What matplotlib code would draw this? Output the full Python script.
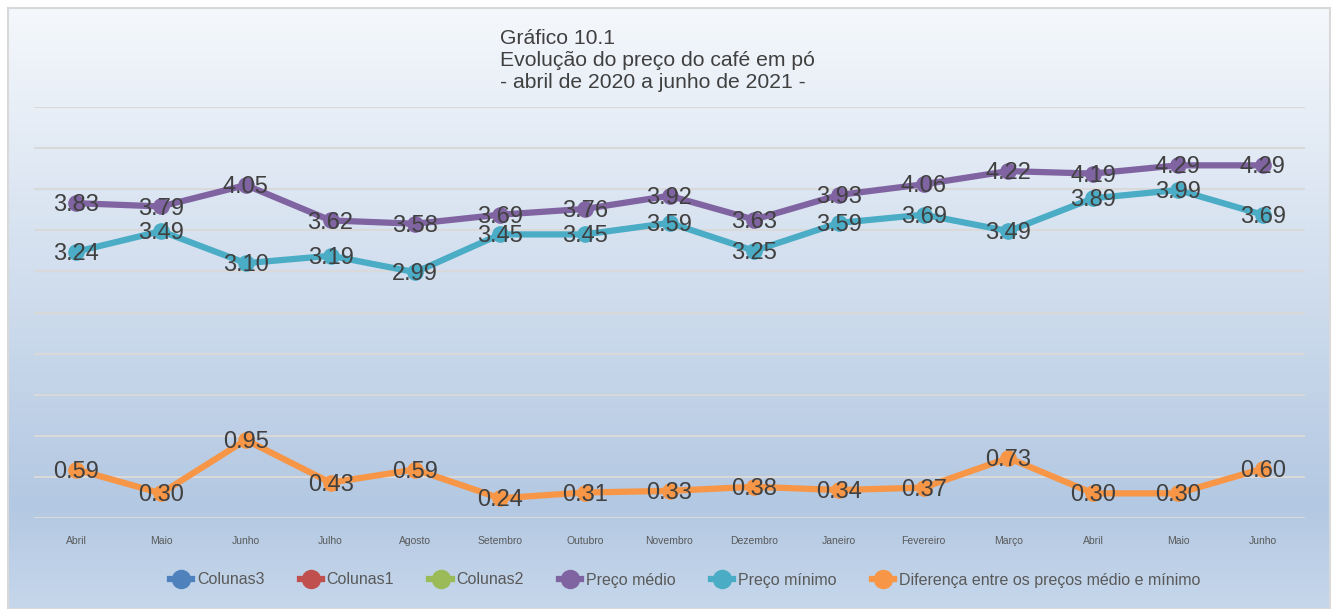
import matplotlib.pyplot as plt
import numpy as np
from matplotlib.colors import LinearSegmentedColormap
from matplotlib.lines import Line2D

plt.rcParams['font.family'] = ['Liberation Sans', 'DejaVu Sans']

meses = ["Abril", "Maio", "Junho", "Julho", "Agosto", "Setembro", "Outubro",
         "Novembro", "Dezembro", "Janeiro", "Fevereiro", "Março", "Abril",
         "Maio", "Junho"]
preco_medio = [3.83, 3.79, 4.05, 3.62, 3.58, 3.69, 3.76, 3.92, 3.63, 3.93,
               4.06, 4.22, 4.19, 4.29, 4.29]
preco_minimo = [3.24, 3.49, 3.10, 3.19, 2.99, 3.45, 3.45, 3.59, 3.25, 3.59,
                3.69, 3.49, 3.89, 3.99, 3.69]
diferenca = [0.59, 0.30, 0.95, 0.43, 0.59, 0.24, 0.31, 0.33, 0.38, 0.34,
             0.37, 0.73, 0.30, 0.30, 0.60]

fig = plt.figure(figsize=(13.35, 6.09), dpi=100)

# fundo em degradê
bg = fig.add_axes([0.006, 0.0, 0.99, 0.987])
cmap = LinearSegmentedColormap.from_list(
    "fundo", [(0, "#c6d7eb"), (0.17, "#b3c8e2"), (1, "#f5f8fc")])
grad = np.linspace(0, 1, 256).reshape(-1, 1)
bg.imshow(grad, aspect="auto", cmap=cmap, origin="lower", extent=[0, 1, 0, 1])
bg.set_xlim(0, 1)
bg.set_ylim(0, 1)
bg.set_xticks([])
bg.set_yticks([])
for s in bg.spines.values():
    s.set_color("#d9d9d9")
    s.set_linewidth(1.5)

ax = fig.add_axes([34 / 1335, (609 - 518) / 609, 1271 / 1335, 411 / 609])
ax.patch.set_alpha(0)
x = np.arange(len(meses))

series = [
    ("Preço médio", preco_medio, "#8064a2"),
    ("Preço mínimo", preco_minimo, "#4bacc6"),
    ("Diferença entre os preços médio e mínimo", diferenca, "#f79646"),
]
vazias = [("Colunas3", "#4f81bd"), ("Colunas1", "#c0504d"), ("Colunas2", "#9bbb59")]

for nome, vals, cor in series:
    ax.plot(x, vals, color=cor, lw=4.5, marker="o", ms=11,
            solid_capstyle="round", solid_joinstyle="round")
    for xi, v in zip(x, vals):
        ax.annotate(f"{v:.2f}", (xi, v), xytext=(0, -1.5), textcoords="offset points",
                    ha="center", va="center", fontsize=17, color="#404040")

ax.set_xlim(-0.5, len(meses) - 0.5)
ax.set_ylim(0, 5)
ax.set_yticks(np.arange(0, 5.01, 0.5))
ax.set_yticklabels([])
ax.tick_params(axis="y", length=0)
ax.grid(axis="y", color="#d9d9d9", lw=1.5)
ax.set_axisbelow(True)
ax.set_xticks(x)
ax.set_xticklabels(meses, fontsize=7.5, color="#595959")
ax.tick_params(axis="x", length=0, pad=13)
for s in ax.spines.values():
    s.set_visible(False)

for i, linha in enumerate(["Gráfico 10.1", "Evolução do preço do café em pó",
                           "- abril de 2020 a junho de 2021 -"]):
    fig.text(500 / 1335, 1 - (38 + 22 * i) / 609, linha, fontsize=15.2,
             color="#404040", va="center")

nomes = [n for n, c in vazias] + [n for n, v, c in series]
cores = [c for n, c in vazias] + [c for n, v, c in series]
handles = [Line2D([], [], color=c, lw=4.5, marker="o", ms=13) for c in cores]
fig.legend(handles, nomes, loc="center", bbox_to_anchor=(685 / 1335, 1 - 580 / 609),
           ncol=6, frameon=False, fontsize=11.5, handlelength=1.4, handletextpad=0.3,
           columnspacing=2.2, labelcolor="#595959")

fig.savefig("out.png", dpi=100)
